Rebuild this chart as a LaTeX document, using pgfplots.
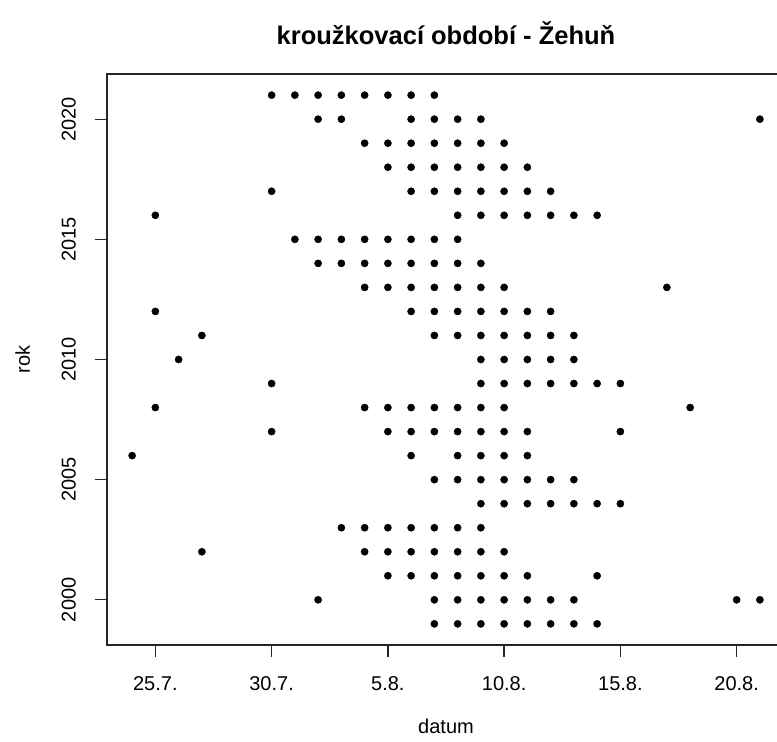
\documentclass[border=0pt]{standalone}
\usepackage{fontspec}
\setmainfont{Liberation Sans}
\usepackage{pgfplots}
\pgfplotsset{compat=1.18}

\begin{document}
\begin{tikzpicture}
% picture is 777 x 742 (1px = 1pt); the right side of the frame falls outside it
\useasboundingbox (0,0) rectangle (777pt,742pt);
\begin{axis}[at={(107pt,97pt)}, anchor=south west,
  scale only axis, width=678pt, height=571pt,
  xmin=22.92, xmax=52.08, ymin=1998.12, ymax=2021.88,
  axis line style={line width=1.5pt, black!85},
  tick align=outside, major tick length=12pt,
  every tick/.style={black!85, line width=1.3pt},
  xtick pos=bottom, ytick pos=left,
  xtick={25,30,35,40,45,50},
  xticklabels={25.7.,30.7.,5.8.,10.8.,15.8.,20.8.},
  ytick={2000,2005,2010,2015,2020},
  yticklabels={2000,2005,2010,2015,2020},
  tick label style={font=\fontsize{20}{24}\selectfont, inner sep=0pt},
  xticklabel style={anchor=north},
  yticklabel style={rotate=90, anchor=south},
  xticklabel shift=19pt, yticklabel shift=19pt,
  minor tick num=0]
\addplot[only marks, mark=*, mark size=3.6pt, black] coordinates {
  (30,2021) (31,2021) (32,2021) (33,2021) (34,2021) (35,2021) (36,2021) (37,2021)
  (32,2020) (33,2020) (36,2020) (37,2020) (38,2020) (39,2020) (51,2020)
  (34,2019) (35,2019) (36,2019) (37,2019) (38,2019) (39,2019) (40,2019)
  (35,2018) (36,2018) (37,2018) (38,2018) (39,2018) (40,2018) (41,2018)
  (30,2017) (36,2017) (37,2017) (38,2017) (39,2017) (40,2017) (41,2017) (42,2017)
  (25,2016) (38,2016) (39,2016) (40,2016) (41,2016) (42,2016) (43,2016) (44,2016)
  (31,2015) (32,2015) (33,2015) (34,2015) (35,2015) (36,2015) (37,2015) (38,2015)
  (32,2014) (33,2014) (34,2014) (35,2014) (36,2014) (37,2014) (38,2014) (39,2014)
  (34,2013) (35,2013) (36,2013) (37,2013) (38,2013) (39,2013) (40,2013) (47,2013)
  (25,2012) (36,2012) (37,2012) (38,2012) (39,2012) (40,2012) (41,2012) (42,2012)
  (27,2011) (37,2011) (38,2011) (39,2011) (40,2011) (41,2011) (42,2011) (43,2011)
  (26,2010) (39,2010) (40,2010) (41,2010) (42,2010) (43,2010)
  (30,2009) (39,2009) (40,2009) (41,2009) (42,2009) (43,2009) (44,2009) (45,2009)
  (25,2008) (34,2008) (35,2008) (36,2008) (37,2008) (38,2008) (39,2008) (40,2008) (48,2008)
  (30,2007) (35,2007) (36,2007) (37,2007) (38,2007) (39,2007) (40,2007) (41,2007) (45,2007)
  (24,2006) (36,2006) (38,2006) (39,2006) (40,2006) (41,2006)
  (37,2005) (38,2005) (39,2005) (40,2005) (41,2005) (42,2005) (43,2005)
  (39,2004) (40,2004) (41,2004) (42,2004) (43,2004) (44,2004) (45,2004)
  (33,2003) (34,2003) (35,2003) (36,2003) (37,2003) (38,2003) (39,2003)
  (27,2002) (34,2002) (35,2002) (36,2002) (37,2002) (38,2002) (39,2002) (40,2002)
  (35,2001) (36,2001) (37,2001) (38,2001) (39,2001) (40,2001) (41,2001) (44,2001)
  (32,2000) (37,2000) (38,2000) (39,2000) (40,2000) (41,2000) (42,2000) (43,2000) (50,2000) (51,2000)
  (37,1999) (38,1999) (39,1999) (40,1999) (41,1999) (42,1999) (43,1999) (44,1999)
};
\end{axis}
\node[font=\fontsize{25.5}{30}\selectfont\bfseries, anchor=base] at (446pt,697pt)
  {kroužkovací období - Žehuň};
\node[font=\fontsize{20}{24}\selectfont, anchor=base] at (446pt,8pt) {datum};
\node[font=\fontsize{20}{24}\selectfont, anchor=base, rotate=90] at (30pt,382.5pt) {rok};
\end{tikzpicture}
\end{document}
